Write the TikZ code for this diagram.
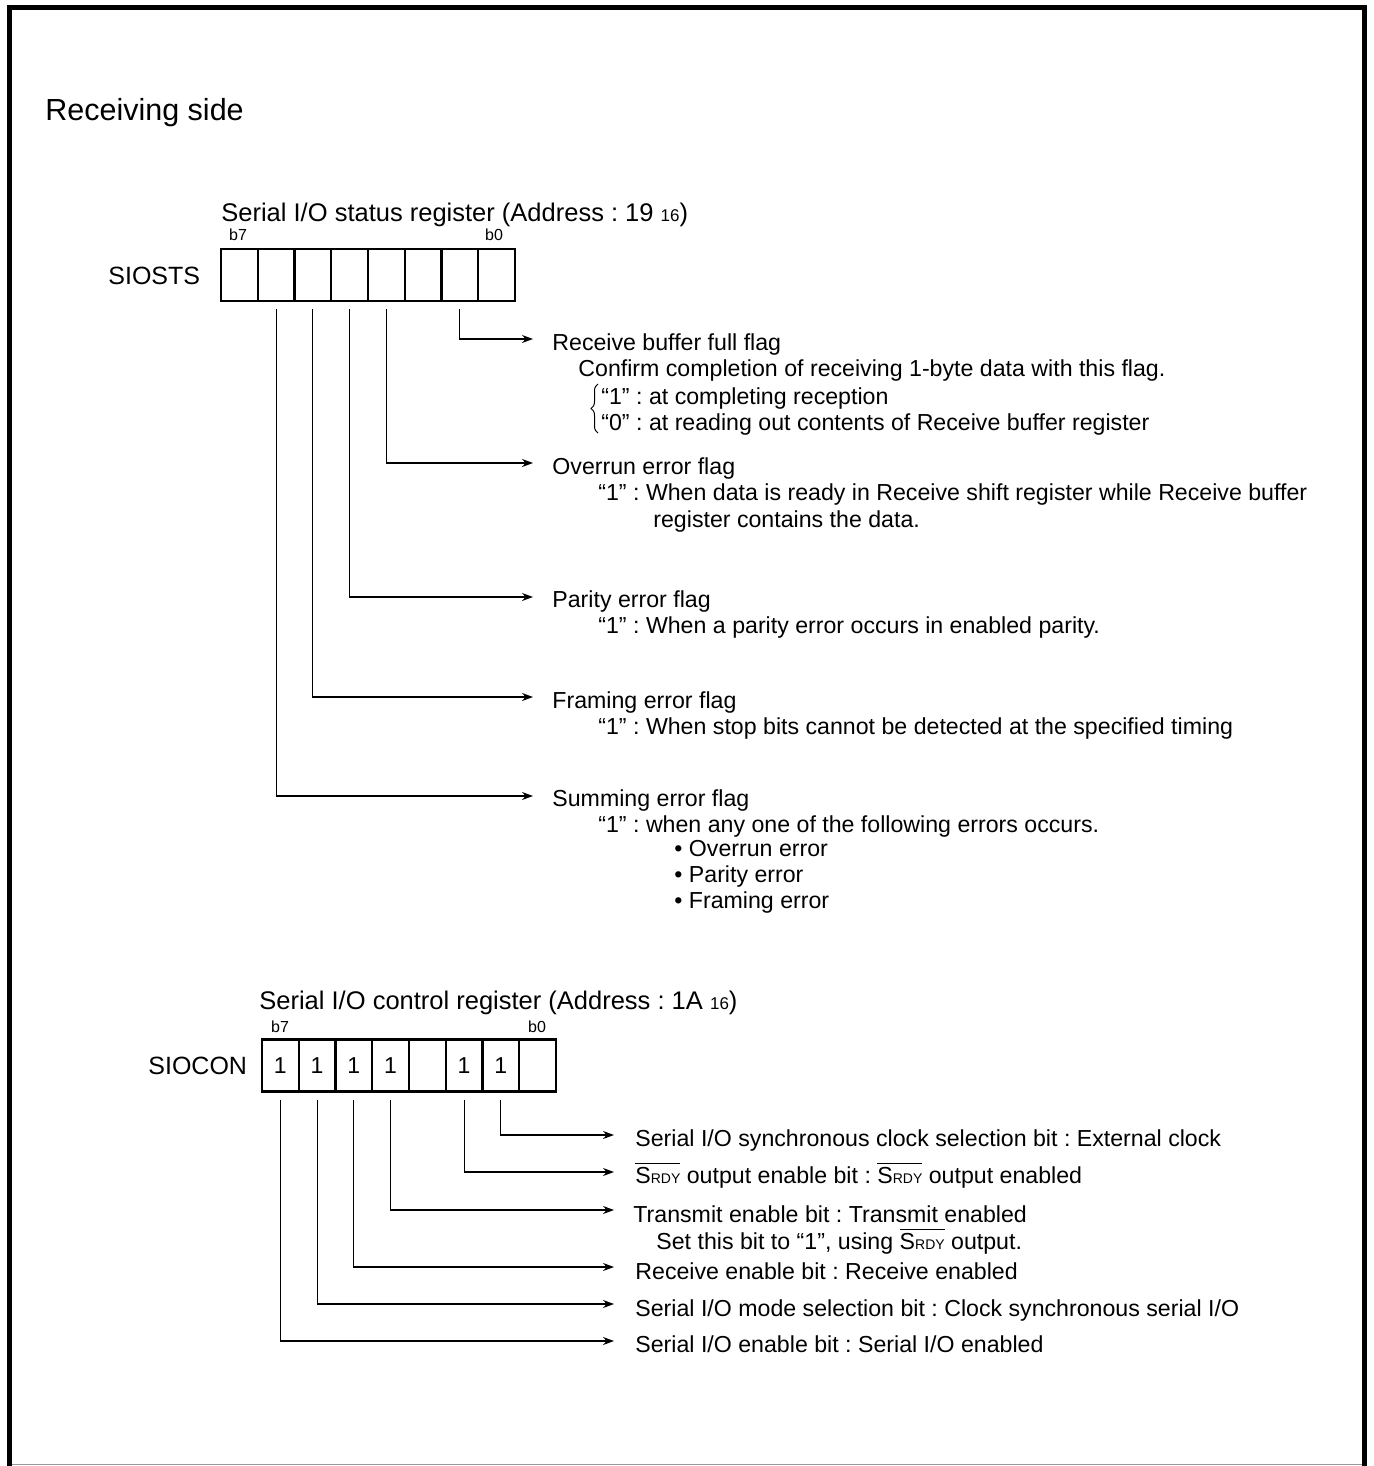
\documentclass[tikz,border=0pt]{standalone}
\usepackage{fontspec}
\setmainfont{Liberation Sans}
\usetikzlibrary{arrows.meta,decorations.pathreplacing}
\newsavebox\srdybox
\newcommand{\srdyx}{\sbox\srdybox{S{\fontsize{7pt}{8pt}\selectfont RDY}}\rlap{\raisebox{\dimexpr\ht\srdybox+1.6pt\relax}{\rule{\wd\srdybox}{0.45pt}}}\usebox\srdybox}
\newcommand{\subsx}[1]{{\fontsize{8.5pt}{9pt}\selectfont #1}}
\begin{document}
\frenchspacing
\begin{tikzpicture}[x=0.5pt,y=-0.5pt,
  txt/.style={anchor=base west, inner sep=0pt, font=\fontsize{11.58pt}{13pt}\selectfont},
  regtitle/.style={anchor=base west, inner sep=0pt, font=\fontsize{12.75pt}{14pt}\selectfont},
  bitlbl/.style={anchor=base, inner sep=0pt, font=\fontsize{8pt}{9pt}\selectfont},
  reglbl/.style={anchor=base west, inner sep=0pt, font=\fontsize{12.5pt}{14pt}\selectfont},
  cell/.style={draw, line width=1.2pt, minimum width=18.375pt, minimum height=26pt, inner sep=0pt, font=\fontsize{11.5pt}{13pt}\selectfont},
  conn/.style={line width=0.55pt, -{Stealth[length=5.5pt,width=4pt,inset=1.8pt]}},
  frame/.style={line width=2.5pt}]
\useasboundingbox (0,0) rectangle (1373,1466);
% frame
\draw[frame] (9.5,1466) -- (9.5,7.5) -- (1364,7.5) -- (1364,1466);
\draw[line width=0.8pt, black!40] (12,1464.5) -- (1362,1464.5);

\node[anchor=base west, inner sep=0pt, font=\fontsize{15.25pt}{18pt}\selectfont] (title) at (45,121) {Receiving side};

% ---------- SIOSTS ----------
\node[regtitle] (stsname) at (221,221) {Serial I/O status register (Address : 19 \subsx{16})};
\node[bitlbl] (sb7) at (238,241) {b7};
\node[bitlbl] (sb0) at (494,241) {b0};
\node[reglbl] (siosts) at (108,285) {SIOSTS};
\foreach \i in {0,...,7} {
  \pgfmathtruncatemacro\b{7-\i}
  \node[cell] (s\b) at ({221+36.75*(\i+0.5)},275) {};
}
\coordinate (sa1) at (533,339);
\coordinate (sa3) at (533,463);
\coordinate (sa4) at (533,597);
\coordinate (sa5) at (533,697);
\coordinate (sa6) at (533,796);
\draw[conn] ([yshift=-3.5pt]s1.south) |- (sa1);
\draw[conn] ([yshift=-3.5pt]s3.south) |- (sa3);
\draw[conn] ([yshift=-3.5pt]s4.south) |- (sa4);
\draw[conn] ([yshift=-3.5pt]s5.south) |- (sa5);
\draw[conn] ([yshift=-3.5pt]s6.south) |- (sa6);

\node[txt] (t1a) at (552,350) {Receive buffer full flag};
\node[txt] (t1b) at (578,376) {Confirm completion of receiving 1-byte data with this flag.};
\node[txt] (t1c) at (601,404) {“1” : at completing reception};
\node[txt] (t1d) at (601,430) {“0” : at reading out contents of Receive buffer register};
\coordinate (brtop) at (598,384);
\coordinate (brbot) at (598,433);
\draw[line width=0.5pt, decorate, decoration={brace, amplitude=3.5pt}] (brbot) -- (brtop);

\node[txt] (t3a) at (552,474) {Overrun error flag};
\node[txt] (t3b) at (598,500) {“1” : When data is ready in Receive shift register while Receive buffer};
\node[txt] (t3c) at (653,527) {register contains the data.};

\node[txt] (t4a) at (552,607) {Parity error flag};
\node[txt] (t4b) at (598,633) {“1” : When a parity error occurs in enabled parity.};

\node[txt] (t5a) at (552,708) {Framing error flag};
\node[txt] (t5b) at (598,734) {“1” : When stop bits cannot be detected at the specified timing};

\node[txt] (t6a) at (552,806) {Summing error flag};
\node[txt] (t6b) at (598,832) {“1” : when any one of the following errors occurs.};
\node[txt] (t6c) at (674,856) {• Overrun error};
\node[txt] (t6d) at (674,882) {• Parity error};
\node[txt] (t6e) at (674,908) {• Framing error};

% ---------- SIOCON ----------
\node[regtitle] (conname) at (259,1009) {Serial I/O control register (Address : 1A \subsx{16})};
\node[bitlbl] (cb7) at (280,1032) {b7};
\node[bitlbl] (cb0) at (537,1032) {b0};
\node[reglbl] (siocon) at (148,1074) {SIOCON};
\foreach \i/\v in {0/1,1/1,2/1,3/1,4/{},5/1,6/1,7/{}} {
  \pgfmathtruncatemacro\b{7-\i}
  \node[cell] (c\b) at ({262+36.75*(\i+0.5)},1065.5) {\v};
}
\coordinate (ca1) at (614,1135);
\coordinate (ca2) at (614,1172);
\coordinate (ca4) at (614,1210);
\coordinate (ca5) at (614,1267);
\coordinate (ca6) at (614,1304);
\coordinate (ca7) at (614,1341);
\draw[conn] ([yshift=-3.5pt]c1.south) |- (ca1);
\draw[conn] ([yshift=-3.5pt]c2.south) |- (ca2);
\draw[conn] ([yshift=-3.5pt]c4.south) |- (ca4);
\draw[conn] ([yshift=-3.5pt]c5.south) |- (ca5);
\draw[conn] ([yshift=-3.5pt]c6.south) |- (ca6);
\draw[conn] ([yshift=-3.5pt]c7.south) |- (ca7);

\node[txt] (u1) at (635,1146) {Serial I/O synchronous clock selection bit : External clock};
\node[txt] (u2) at (635,1183) {\srdyx{} output enable bit : \srdyx{} output enabled};
\node[txt] (u4a) at (633,1222) {Transmit enable bit : Transmit enabled};
\node[txt] (u4b) at (656,1249) {Set this bit to “1”, using \srdyx{} output.};
\node[txt] (u5) at (635,1279) {Receive enable bit : Receive enabled};
\node[txt] (u6) at (635,1316) {Serial I/O mode selection bit : Clock synchronous serial I/O};
\node[txt] (u7) at (635,1352) {Serial I/O enable bit : Serial I/O enabled};
\end{tikzpicture}
\end{document}
